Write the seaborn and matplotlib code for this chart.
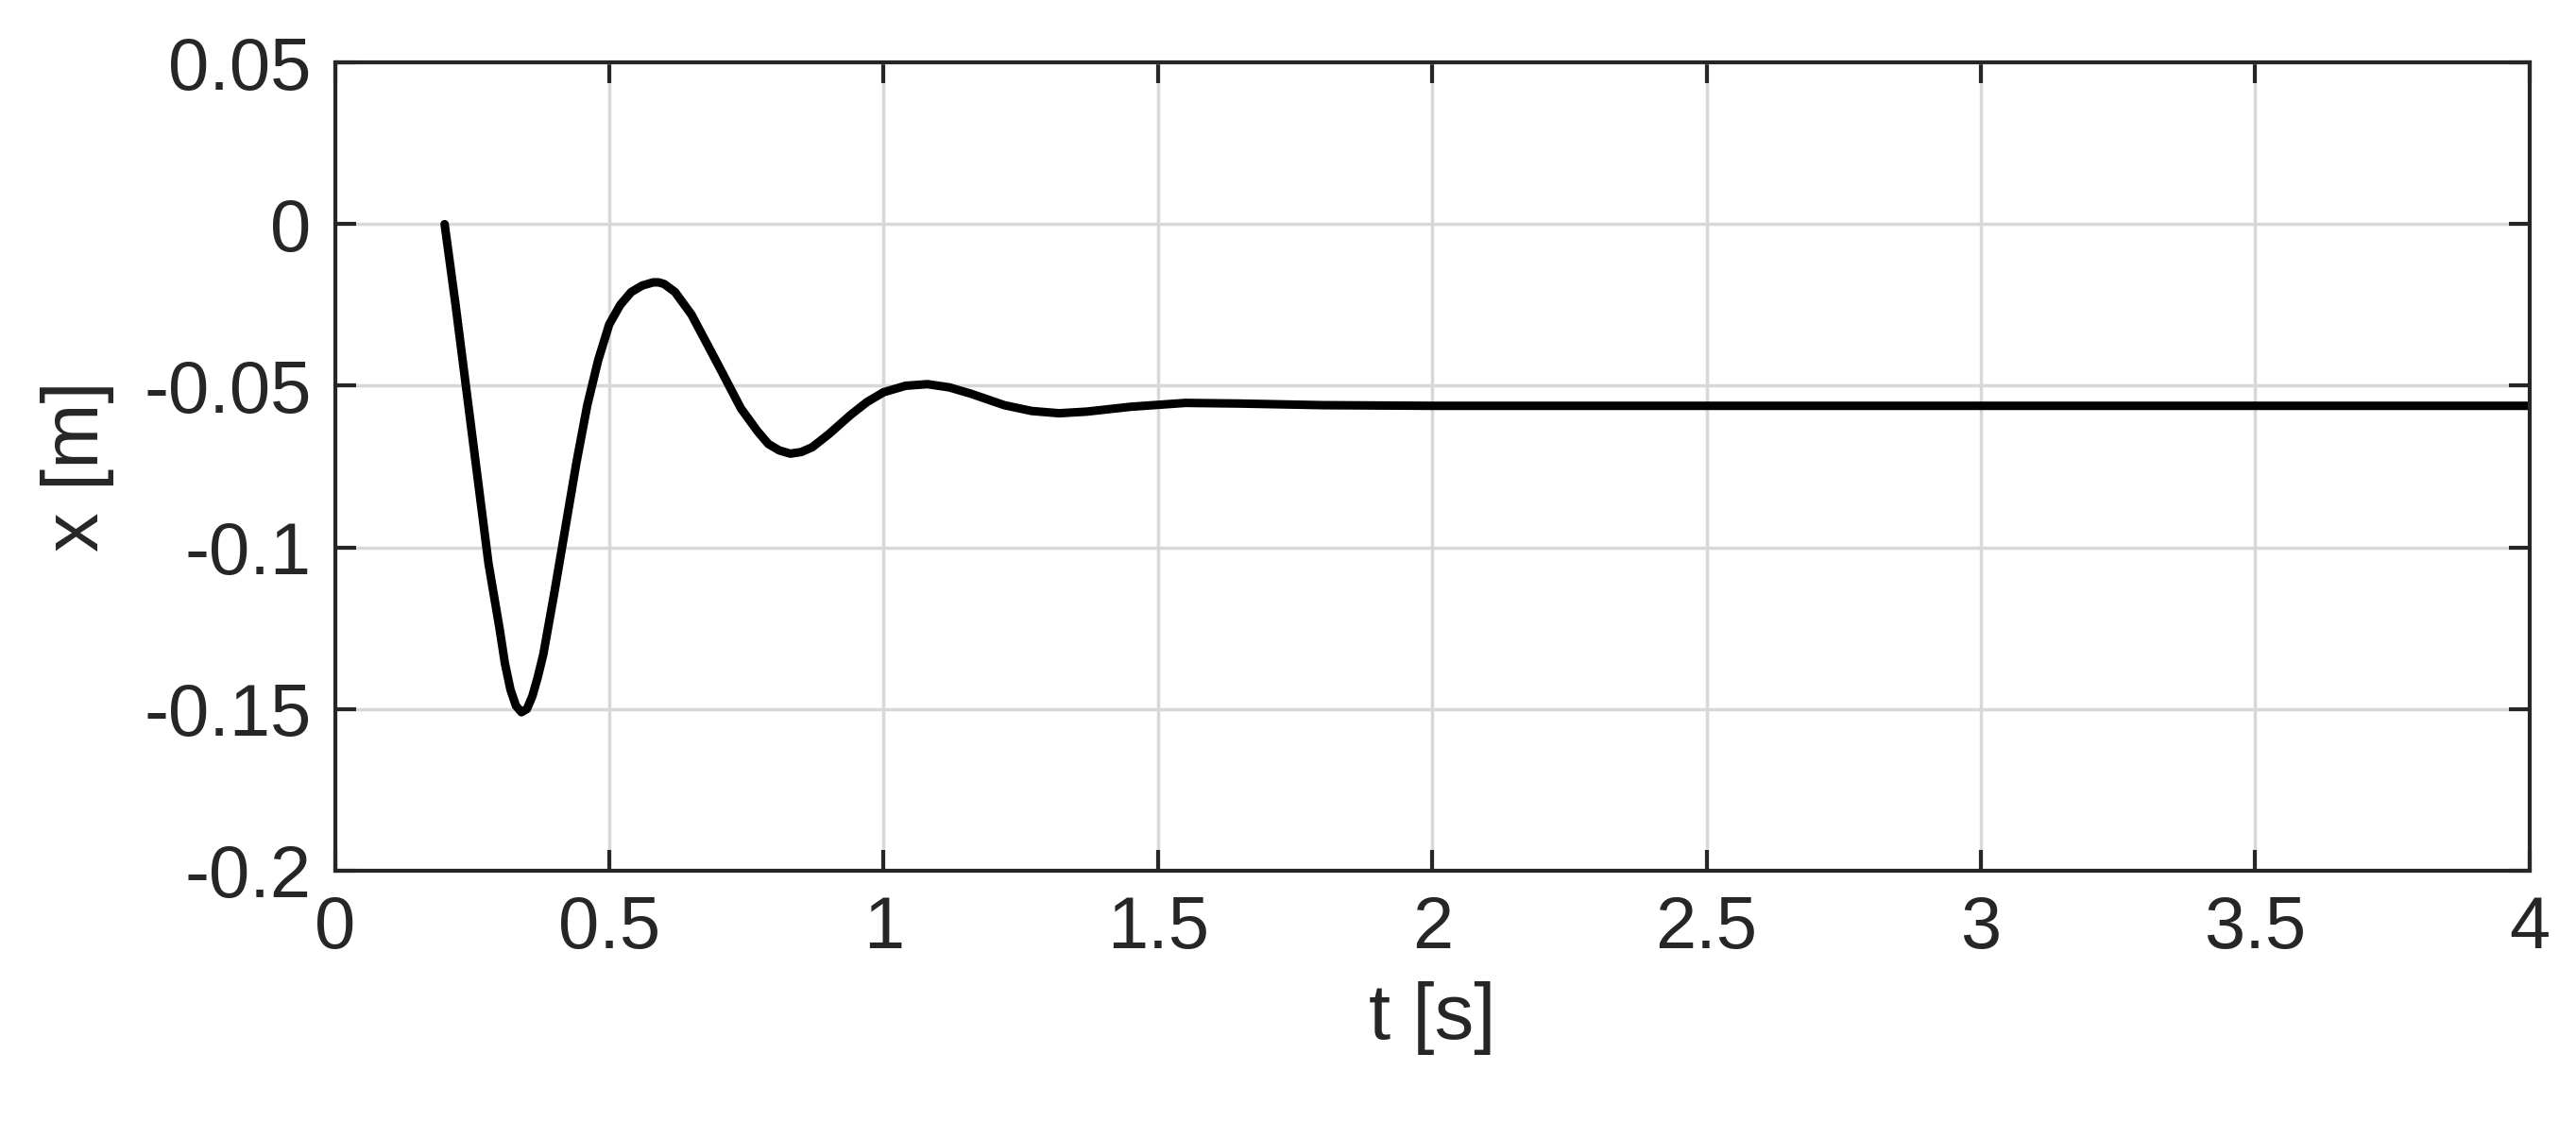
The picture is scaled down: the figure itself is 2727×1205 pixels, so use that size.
import matplotlib
matplotlib.use("Agg")
import matplotlib.pyplot as plt
import seaborn as sns
import pandas as pd

t = [0.2, 0.22, 0.25, 0.28, 0.3, 0.31, 0.32, 0.33, 0.34, 0.35, 0.36, 0.37, 0.38, 0.4, 0.42, 0.44, 0.46, 0.48,
     0.5, 0.52, 0.54, 0.56, 0.58, 0.59, 0.6, 0.62, 0.65, 0.7, 0.74, 0.77, 0.79, 0.81, 0.83, 0.85, 0.87, 0.9,
     0.94, 0.97, 1.0, 1.04, 1.08, 1.12, 1.16, 1.22, 1.27, 1.32, 1.37, 1.45, 1.55, 1.65, 1.8, 2.0, 2.5, 3.0,
     3.5, 4.0]
x = [0.0, -0.025, -0.065, -0.105, -0.125, -0.136, -0.144, -0.149, -0.151, -0.150, -0.146, -0.140, -0.133,
     -0.114, -0.094, -0.074, -0.056, -0.042, -0.031, -0.025, -0.021, -0.019, -0.018, -0.018, -0.0185, -0.021,
     -0.028, -0.044, -0.057, -0.064, -0.068, -0.070, -0.071, -0.0705, -0.069, -0.065, -0.059, -0.055, -0.052,
     -0.050, -0.0495, -0.0505, -0.0525, -0.056, -0.0578, -0.0585, -0.058, -0.0565, -0.0553, -0.0555, -0.056,
     -0.0562, -0.0562, -0.0562, -0.0562, -0.0562]

sns.set_theme(style="white")
plt.rcParams['font.family'] = ['Liberation Sans', 'DejaVu Sans']
fig = plt.figure(figsize=(27.27, 12.05), dpi=100)
ax = fig.add_axes([0.130, 0.235, 0.852, 0.71])
df = pd.DataFrame({"t": t, "x": x})
sns.lineplot(data=df, x="t", y="x", ax=ax, color="black", linewidth=6.5, sort=False)
ax.set_xlim(0, 4)
ax.set_ylim(-0.2, 0.05)
ax.set_xticks([0, 0.5, 1, 1.5, 2, 2.5, 3, 3.5, 4])
ax.set_xticklabels(["0", "0.5", "1", "1.5", "2", "2.5", "3", "3.5", "4"])
ax.set_yticks([-0.2, -0.15, -0.1, -0.05, 0, 0.05])
ax.set_yticklabels(["-0.2", "-0.15", "-0.1", "-0.05", "0", "0.05"])
ax.grid(True, color="#d8d8d8", linewidth=2.5)
ax.tick_params(direction="in", length=16, width=3, labelsize=56, colors="#262626",
               top=True, right=True, bottom=True, left=True, pad=18)
for s in ax.spines.values():
    s.set_color("#262626"); s.set_linewidth(3)
ax.set_xlabel("t [s]", fontsize=60, color="#262626", labelpad=14)
ax.set_ylabel("x [m]", fontsize=60, color="#262626", labelpad=22)
fig.savefig("out.png", dpi=100)
